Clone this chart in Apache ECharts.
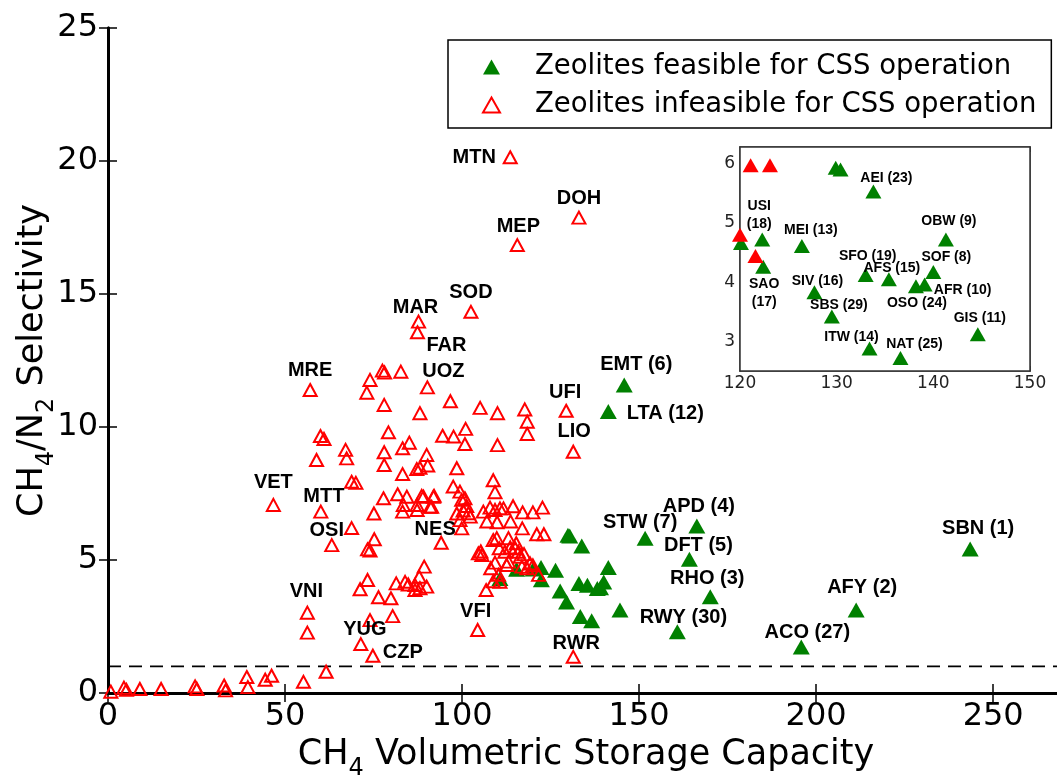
<!DOCTYPE html>
<html>
<head>
<meta charset="utf-8">
<script src="https://cdn.jsdelivr.net/npm/echarts@6/dist/echarts.min.js"></script>
<style>
  html, body { margin: 0; padding: 0; overflow: hidden; background: #fff; }
  #chart { width: 1080px; height: 780px; }
</style>
</head>
<body>
<div id="chart"></div>
<script>
// ---- Feasible zeolites (CSS ranking in brackets) ----
const feasibleCode = ['SBN','AFY','RHO','APD','DFT','EMT','STW','SOF','OBW','AFR',
  'GIS','LTA','MEI','ITW','AFS','SIV','SAO','USI','SFO','',
  '','','AEI','OSO','NAT','','ACO','','SBS','RWY'];
const feasibleRank = [1,2,3,4,5,6,7,8,9,10,11,12,13,14,15,16,17,18,19,20,
  21,22,23,24,25,26,27,28,29,30];
const feasibleCapacity = [243.5,211.3,170.1,166.3,164.2,145.8,151.7,140.0,141.3,139.1,
  144.6,141.3,126.4,133.4,135.4,127.7,122.4,122.3,133.0,129.9,
  130.4,120.1,133.8,138.2,136.6,115.4,195.8,110.7,129.5,160.8];
const feasibleSelectivity = [5.41,3.12,3.62,6.28,5.03,11.58,5.82,4.17,4.72,3.96,
  3.12,10.58,4.61,2.88,4.05,3.83,4.26,4.72,4.12,5.93,
  5.90,4.66,5.53,3.93,2.72,4.65,1.73,4.30,3.42,2.30];

// ---- Infeasible zeolites, named ones ----
const infeasibleCode = ['MTN','DOH','MEP','SOD','MAR','FAR','UOZ','MRE','VET','MTT',
  'OSI','NES','VNI','YUG','CZP','VFI','RWR','UFI','LIO'];
const infeasibleCodeCapacity = [113.6,133.0,115.6,102.5,87.7,87.4,90.2,57.1,46.7,60.1,
  63.2,94.1,56.3,71.4,74.8,104.4,131.4,129.4,131.4];
const infeasibleCodeSelectivity = [20.14,17.87,16.84,14.33,13.96,13.56,11.49,11.39,7.07,6.82,
  5.56,5.65,3.02,1.84,1.40,2.37,1.36,10.61,9.07];

// ---- Infeasible zeolites, unnamed ----
const otherInfeasibleCapacity = [
  0.8,4.5,5.2,9.0,15.0,24.6,25.1,32.8,33.2,39.2,39.5,44.4,46.2,55.2,61.6,
  56.3,74.0,80.4,71.2,73.3,76.4,79.9,81.4,83.9,84.8,86.7,88.1,89.3,87.9,90.0,86.7,
  68.8,73.3,74.0,75.2,75.1,77.8,81.8,83.4,83.2,87.3,87.3,88.6,91.4,92.1,84.4,97.5,99.4,99.9,100.8,101.3,100.3,101.8,99.4,99.9,102.3,98.5,106.0,
  77.5,78.1,82.7,74.0,73.1,78.0,96.7,88.1,60.0,61.0,58.9,67.1,67.4,68.8,70.0,79.2,78.0,78.0,83.2,85.1,90.0,90.3,87.2,88.1,83.2,94.5,97.6,101.0,100.8,98.5,91.9,89.1,91.0,
  105.1,110.0,117.7,118.4,118.4,110.0,108.8,109.3,
  107.9,109.3,110.7,111.7,114.4,117.1,120.0,122.7,107.0,109.9,113.7,117.0,121.1,123.1,
  109.8,113.1,115.3,113.6,110.5,108.8,112.1,115.9,117.5,116.4,115.0,104.6,105.3,105.6,
  109.3,113.1,116.9,118.3,119.2,112.6,108.1,110.3,108.8,110.7,106.8,120.0,121.6
];
const otherInfeasibleSelectivity = [
  0.05,0.20,0.12,0.15,0.15,0.25,0.15,0.28,0.10,0.60,0.22,0.50,0.65,0.42,0.80,
  2.27,2.74,2.89,3.90,4.25,3.60,3.56,4.12,4.18,4.08,4.06,3.94,4.75,4.37,4.00,3.87,
  6.20,5.40,5.36,5.78,6.75,7.32,7.47,7.07,6.82,7.07,6.88,7.41,7.00,7.41,7.38,7.76,7.57,7.26,7.32,7.03,6.86,6.76,6.50,6.19,6.63,6.75,6.82,
  12.12,12.05,12.08,11.77,11.29,10.83,10.97,10.52,9.66,9.55,8.76,9.14,8.82,7.94,7.90,9.80,9.05,8.57,9.20,9.41,8.95,8.55,8.42,8.47,8.23,9.67,9.64,9.93,9.36,8.45,7.38,7.38,7.00,
  10.72,10.52,10.66,10.20,9.74,9.32,8.00,7.55,
  6.97,6.88,6.94,6.94,7.02,6.79,6.79,6.97,6.45,6.42,6.45,6.19,5.97,5.97,
  5.82,5.82,5.63,5.47,5.44,5.75,5.31,5.31,5.22,5.12,5.44,5.25,5.32,5.19,
  4.90,4.94,4.75,4.69,4.87,4.81,4.69,4.44,4.20,4.18,3.87,4.80,4.44
];

// Selectivity threshold for CSS operation
const SELECTIVITY_THRESHOLD = 1;

// Axis ranges and ticks
const X_RANGE = [0, 270], X_STEP = 50;
const Y_RANGE = [0, 25], Y_STEP = 5;
const INSET_X_RANGE = [120, 150], INSET_X_STEP = 10;
const INSET_Y_RANGE = [2.5, 6.28], INSET_Y_TICKS = [3, 4, 5, 6];

const FEASIBLE = 'Zeolites feasible for CSS operation';
const INFEASIBLE = 'Zeolites infeasible for CSS operation';

// ---- Styling ----
const GREEN = '#008000', RED = '#ff0000';
const AXIS_FONT = 'DejaVu Sans';
const TAG_FONT = 'Liberation Sans';

// label centre offsets (px) from each marker
const MAIN_TAG = {
  SBN: [8, -21], AFY: [6, -23], RHO: [-3, -18], APD: [2, -19], DFT: [9, -14],
  EMT: [12, -20], STW: [-5, -16], LTA: [57, 2], ACO: [6, -14], RWY: [6, -14],
  MTN: [-36, 0], DOH: [0, -19], MEP: [1, -19], SOD: [0, -19], MAR: [-3, -14],
  FAR: [29, 13], UOZ: [16, -16], MRE: [0, -20], VET: [0, -22], MTT: [3, -15],
  OSI: [-5, -15], NES: [-6, -13], VNI: [-1, -21], YUG: [4, -15], CZP: [30, -3],
  VFI: [-2, -18], RWR: [3, -13], UFI: [-1, -18], LIO: [1, -20]
};
const INSET_TAG = {
  AEI: [13, -13], USI: [-3, -24], MEI: [9, -16], SFO: [2, -19], AFS: [3, -11],
  OBW: [3, -18], SOF: [13, -15], SAO: [1, 26], SIV: [3, -11], SBS: [7, -11],
  AFR: [38, 6], OSO: [1, 17], GIS: [2, -16], ITW: [-18, -11], NAT: [14, -14]
};
const TWO_LINE = { USI: true, SAO: true };

function tagLabel(text, offset, size) {
  return {
    show: true, position: 'inside', offset: offset, formatter: text,
    color: '#000', fontFamily: TAG_FONT, fontWeight: 'bold', fontSize: size,
    lineHeight: size + 4, align: 'center', verticalAlign: 'middle'
  };
}

// axis titles with a lowered, smaller subscript
const TITLE_SIZE = 35, SUB_SIZE = 24;
const titleRich = {
  n: { fontFamily: AXIS_FONT, fontSize: TITLE_SIZE, color: '#000', lineHeight: 40, verticalAlign: 'top' },
  s: { fontFamily: AXIS_FONT, fontSize: SUB_SIZE, color: '#000', lineHeight: SUB_SIZE, verticalAlign: 'top', padding: [20, 0, 0, 0] }
};

// build data items
const feasibleMain = feasibleCapacity.map((x, i) => {
  const code = feasibleCode[i];
  const item = { value: [x, feasibleSelectivity[i]], name: code };
  if (code && MAIN_TAG[code]) item.label = tagLabel(code + ' (' + feasibleRank[i] + ')', MAIN_TAG[code], 20);
  return item;
});
const infeasibleMain = infeasibleCode.map((code, i) => ({
  value: [infeasibleCodeCapacity[i], infeasibleCodeSelectivity[i]], name: code,
  label: tagLabel(code, MAIN_TAG[code], 20)
})).concat(otherInfeasibleCapacity.map((x, i) => ({ value: [x, otherInfeasibleSelectivity[i]] })));

const inInset = (x, y) => x >= INSET_X_RANGE[0] && x <= INSET_X_RANGE[1] && y >= INSET_Y_RANGE[0] && y <= INSET_Y_RANGE[1];

const feasibleInset = [];
feasibleCapacity.forEach((x, i) => {
  const y = feasibleSelectivity[i];
  if (!inInset(x, y)) return;
  const code = feasibleCode[i];
  const item = { value: [x, y] };
  if (code && INSET_TAG[code]) {
    const sep = TWO_LINE[code] ? '\n' : ' ';
    item.label = tagLabel(code + sep + '(' + feasibleRank[i] + ')', INSET_TAG[code], 14);
  }
  feasibleInset.push(item);
});
const allInfCap = infeasibleCodeCapacity.concat(otherInfeasibleCapacity);
const allInfSel = infeasibleCodeSelectivity.concat(otherInfeasibleSelectivity);
const infeasibleInset = [];
allInfCap.forEach((x, i) => {
  if (inInset(x, allInfSel[i])) infeasibleInset.push([x, allInfSel[i]]);
});

const thickLine = { show: true, lineStyle: { color: '#000', width: 3 } };
const inTick = { show: true, inside: true, length: 9, lineStyle: { color: '#000', width: 1.5 } };
const insetLine = { show: true, lineStyle: { color: '#333', width: 1.5 } };
const insetTick = { show: true, inside: true, length: 5, lineStyle: { color: '#333', width: 1 } };

const chart = echarts.init(document.getElementById('chart'), null, { renderer: 'canvas' });
chart.setOption({
  animation: false,
  backgroundColor: '#fff',
  grid: [
    { left: 108, top: 28, right: 16, bottom: 87, containLabel: false, outerBoundsMode: 'none' },
    { left: 740, top: 147, width: 290, height: 224, containLabel: false, outerBoundsMode: 'none',
      show: true, backgroundColor: '#fff', borderColor: '#333', borderWidth: 1.5, z: 5 }
  ],
  legend: {
    orient: 'vertical', left: 448, top: 40, selectedMode: false,
    padding: [13, 15, 9, 34], itemGap: 10, itemWidth: 17, itemHeight: 15,
    borderColor: '#000', borderWidth: 1.5, borderRadius: 0, backgroundColor: '#fff',
    textStyle: { fontFamily: AXIS_FONT, fontSize: 27.5, color: '#000', padding: [0, 0, 0, 30], lineHeight: 28 },
    data: [
      { name: FEASIBLE, icon: 'triangle', itemStyle: { color: GREEN, borderWidth: 0 } },
      { name: INFEASIBLE, icon: 'triangle', itemStyle: { color: 'rgba(0,0,0,0)', borderColor: RED, borderWidth: 2 } }
    ],
    z: 10
  },
  xAxis: [
    {
      gridIndex: 0, type: 'value', min: X_RANGE[0], max: X_RANGE[1], interval: X_STEP,
      axisLine: thickLine, axisTick: inTick, splitLine: { show: false },
      axisLabel: { color: '#000', fontFamily: AXIS_FONT, fontSize: 32, margin: 8, showMaxLabel: false },
      name: '{n|CH}{s|4}{n| Volumetric Storage Capacity}', nameLocation: 'middle', nameGap: 44,
      nameMoveOverlap: false, nameTextStyle: { rich: titleRich }
    },
    {
      gridIndex: 0, type: 'value', position: 'top', min: X_RANGE[0], max: X_RANGE[1], interval: X_STEP,
      axisLine: thickLine, axisTick: inTick, axisLabel: { show: false }, splitLine: { show: false }
    },
    {
      gridIndex: 1, type: 'value', min: INSET_X_RANGE[0], max: INSET_X_RANGE[1], interval: INSET_X_STEP,
      axisLine: insetLine, axisTick: insetTick, splitLine: { show: false },
      axisLabel: { color: '#222', fontFamily: AXIS_FONT, fontSize: 17, margin: 4 }
    },
    {
      gridIndex: 1, type: 'value', position: 'top', min: INSET_X_RANGE[0], max: INSET_X_RANGE[1], interval: INSET_X_STEP,
      axisLine: insetLine, axisTick: insetTick, axisLabel: { show: false }, splitLine: { show: false }
    }
  ],
  yAxis: [
    {
      gridIndex: 0, type: 'value', min: Y_RANGE[0], max: Y_RANGE[1], interval: Y_STEP,
      axisLine: thickLine, axisTick: inTick, splitLine: { show: false },
      axisLabel: { color: '#000', fontFamily: AXIS_FONT, fontSize: 32, margin: 10 },
      name: '{n|CH}{s|4}{n|/N}{s|2}{n| Selectivity}', nameLocation: 'middle', nameGap: 53,
      nameMoveOverlap: false, nameTextStyle: { rich: titleRich }
    },
    {
      gridIndex: 0, type: 'value', position: 'right', min: Y_RANGE[0], max: Y_RANGE[1], interval: Y_STEP,
      axisLine: thickLine, axisTick: inTick, axisLabel: { show: false }, splitLine: { show: false }
    },
    {
      gridIndex: 1, type: 'value', min: INSET_Y_RANGE[0], max: INSET_Y_RANGE[1],
      axisLine: insetLine, splitLine: { show: false },
      axisTick: Object.assign({ customValues: INSET_Y_TICKS }, insetTick),
      axisLabel: { customValues: INSET_Y_TICKS, color: '#222', fontFamily: AXIS_FONT, fontSize: 17, margin: 5 }
    },
    {
      gridIndex: 1, type: 'value', position: 'right', min: INSET_Y_RANGE[0], max: INSET_Y_RANGE[1],
      axisLine: insetLine, splitLine: { show: false },
      axisTick: Object.assign({ customValues: INSET_Y_TICKS }, insetTick), axisLabel: { show: false }
    }
  ],
  series: [
    {
      name: 'threshold', type: 'line', xAxisIndex: 0, yAxisIndex: 0, silent: true, symbol: 'none',
      data: [[X_RANGE[0], SELECTIVITY_THRESHOLD], [X_RANGE[1], SELECTIVITY_THRESHOLD]],
      lineStyle: { color: '#000', width: 1.8, type: [13, 8] }, z: 1
    },
    {
      name: FEASIBLE, type: 'scatter', xAxisIndex: 0, yAxisIndex: 0,
      symbol: 'triangle', symbolSize: [17, 15], itemStyle: { color: GREEN, opacity: 1 },
      data: feasibleMain, z: 2
    },
    {
      name: INFEASIBLE, type: 'scatter', xAxisIndex: 0, yAxisIndex: 0,
      symbol: 'triangle', symbolSize: [13, 12],
      itemStyle: { color: 'rgba(0,0,0,0)', borderColor: RED, borderWidth: 2, opacity: 1 },
      data: infeasibleMain, z: 3
    },
    {
      name: 'feasible (zoom)', type: 'scatter', xAxisIndex: 2, yAxisIndex: 2,
      symbol: 'triangle', symbolSize: [16, 14], itemStyle: { color: GREEN, opacity: 1 },
      data: feasibleInset, z: 6
    },
    {
      name: 'infeasible (zoom)', type: 'scatter', xAxisIndex: 2, yAxisIndex: 2,
      symbol: 'triangle', symbolSize: [16, 14], itemStyle: { color: RED, opacity: 1 },
      data: infeasibleInset, z: 6
    }
  ]
});
</script>
</body>
</html>
